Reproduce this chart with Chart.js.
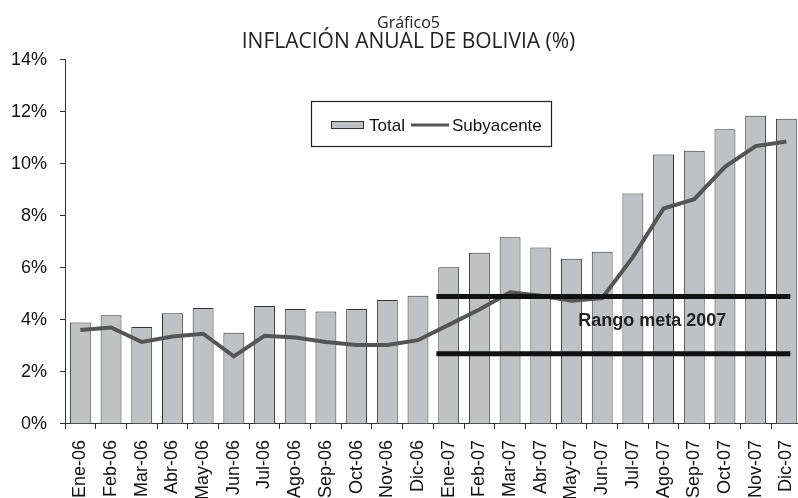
<!DOCTYPE html>
<html>
<head>
<meta charset="utf-8">
<script src="https://cdn.jsdelivr.net/npm/chart.js@4.4.0/dist/chart.umd.min.js"></script>
<style>
  html, body { margin: 0; padding: 0; background: #fff; overflow: hidden; }
  #wrap { width: 819px; height: 511px; }
</style>
</head>
<body>
<div id="wrap"><canvas id="inflacion" width="819" height="511"></canvas></div>
<script>
// Meses del periodo
const meses = ['Ene-06', 'Feb-06', 'Mar-06', 'Abr-06', 'May-06', 'Jun-06', 'Jul-06', 'Ago-06',
    'Sep-06', 'Oct-06', 'Nov-06', 'Dic-06', 'Ene-07', 'Feb-07', 'Mar-07', 'Abr-07',
    'May-07', 'Jun-07', 'Jul-07', 'Ago-07', 'Sep-07', 'Oct-07', 'Nov-07', 'Dic-07'];

// Inflación anual total (%)
const total = [3.90, 4.18, 3.73, 4.26, 4.46, 3.51, 4.53, 4.42, 4.32, 4.42, 4.76, 4.93,
    6.02, 6.58, 7.18, 6.78, 6.35, 6.62, 8.86, 10.36, 10.50, 11.33, 11.85, 11.73];

// Inflación subyacente (%)
const subyacente = [3.61, 3.71, 3.15, 3.36, 3.47, 2.60, 3.39, 3.32, 3.15, 3.04, 3.04, 3.22,
    3.81, 4.40, 5.06, 4.93, 4.74, 4.84, 6.41, 8.28, 8.64, 9.88, 10.68, 10.86];

// Rango meta 2007 (límite inferior y superior, %) y meses que cubre
const rangoMeta = [2.7, 4.9];
const rangoDesde = 'Ene-07';
const rangoHasta = 'Dic-07';

const FONT = '"Liberation Sans", Arial, sans-serif';

// Dibuja las líneas del rango meta y su rótulo
const rangoPlugin = {
    id: 'rangoMeta',
    afterDatasetsDraw(chart) {
        const ctx = chart.ctx;
        const x = chart.scales.x, y = chart.scales.y;
        const i0 = meses.indexOf(rangoDesde), i1 = meses.indexOf(rangoHasta);
        const half = (x.getPixelForValue(1) - x.getPixelForValue(0)) / 2;
        const xa = x.getPixelForValue(i0) - half + 3;
        const xb = x.getPixelForValue(i1) + 4;
        ctx.save();
        ctx.strokeStyle = '#111';
        ctx.lineWidth = 5;
        rangoMeta.forEach(v => {
            const py = y.getPixelForValue(v);
            ctx.beginPath();
            ctx.moveTo(xa, py);
            ctx.lineTo(xb, py);
            ctx.stroke();
        });
        ctx.fillStyle = '#222';
        ctx.font = 'bold 18px ' + FONT;
        ctx.textAlign = 'center';
        ctx.textBaseline = 'middle';
        const tx = (x.getPixelForValue(18) + x.getPixelForValue(19)) / 2 + 4;
        ctx.fillText('Rango meta 2007', tx, y.getPixelForValue((rangoMeta[0] + rangoMeta[1]) / 2 + 0.16));
        ctx.restore();
    }
};

// Leyenda con recuadro dentro del área del gráfico
const leyendaPlugin = {
    id: 'leyendaRecuadro',
    afterDraw(chart) {
        const ctx = chart.ctx;
        ctx.save();
        ctx.fillStyle = '#fff';
        ctx.fillRect(311, 101, 241, 46);
        ctx.strokeStyle = '#222';
        ctx.lineWidth = 1.2;
        ctx.strokeRect(311.5, 101.5, 240, 45);

        const cy = 125;
        ctx.fillStyle = '#c0c1c4';
        ctx.fillRect(331, cy - 3.5, 33, 7);
        ctx.strokeStyle = '#333';
        ctx.lineWidth = 1;
        ctx.strokeRect(331.5, cy - 3.5, 32, 7);

        ctx.fillStyle = '#111';
        ctx.font = '17px ' + FONT;
        ctx.textAlign = 'left';
        ctx.textBaseline = 'middle';
        ctx.fillText('Total', 369, cy + 1);

        ctx.strokeStyle = '#555';
        ctx.lineWidth = 3;
        ctx.beginPath();
        ctx.moveTo(411, cy);
        ctx.lineTo(449, cy);
        ctx.stroke();

        ctx.fillText('Subyacente', 452, cy + 1);
        ctx.restore();
    }
};

new Chart(document.getElementById('inflacion').getContext('2d'), {
    data: {
        labels: meses,
        datasets: [{
            type: 'line',
            label: 'Subyacente',
            data: subyacente,
            borderColor: '#555',
            borderWidth: 4,
            pointRadius: 0,
            tension: 0,
            order: 1
        }, {
            type: 'bar',
            label: 'Total',
            data: total,
            backgroundColor: '#c0c1c4',
            borderColor: '#333',
            borderWidth: 1,
            barPercentage: 0.68,
            categoryPercentage: 1,
            order: 2
        }]
    },
    options: {
        responsive: false,
        animation: false,
        layout: { padding: { left: 0, right: 2, top: 0, bottom: 0 } },
        plugins: {
            legend: { display: false },
            tooltip: { enabled: false },
            title: {
                display: true,
                text: 'Gráfico5',
                color: '#222',
                font: { family: '"Open Sans", sans-serif', size: 16, weight: 'normal', lineHeight: 1.1 },
                padding: { top: 15, bottom: -2 }
            },
            subtitle: {
                display: true,
                text: 'INFLACIÓN ANUAL DE BOLIVIA (%)',
                color: '#222',
                font: { family: '"Open Sans", sans-serif', size: 21, lineHeight: 1.1 },
                padding: { top: 0, bottom: 6 }
            }
        },
        scales: {
            x: {
                grid: { display: true, drawOnChartArea: false, drawTicks: true, tickLength: 5, color: '#333', offset: true },
                border: { color: '#333', width: 1 },
                ticks: {
                    autoSkip: false,
                    maxRotation: 90,
                    minRotation: 90,
                    padding: 11,
                    color: '#111',
                    font: { family: FONT, size: 18 }
                }
            },
            y: {
                min: 0,
                max: 14,
                afterFit(scale) { scale.width = 65; },
                grid: { display: true, drawOnChartArea: false, drawTicks: true, tickLength: 5, color: '#333' },
                border: { color: '#333', width: 1 },
                ticks: {
                    stepSize: 2,
                    padding: 13,
                    color: '#111',
                    font: { family: FONT, size: 18 },
                    callback: v => v + '%'
                }
            }
        }
    },
    plugins: [rangoPlugin, leyendaPlugin]
});
</script>
</body>
</html>
